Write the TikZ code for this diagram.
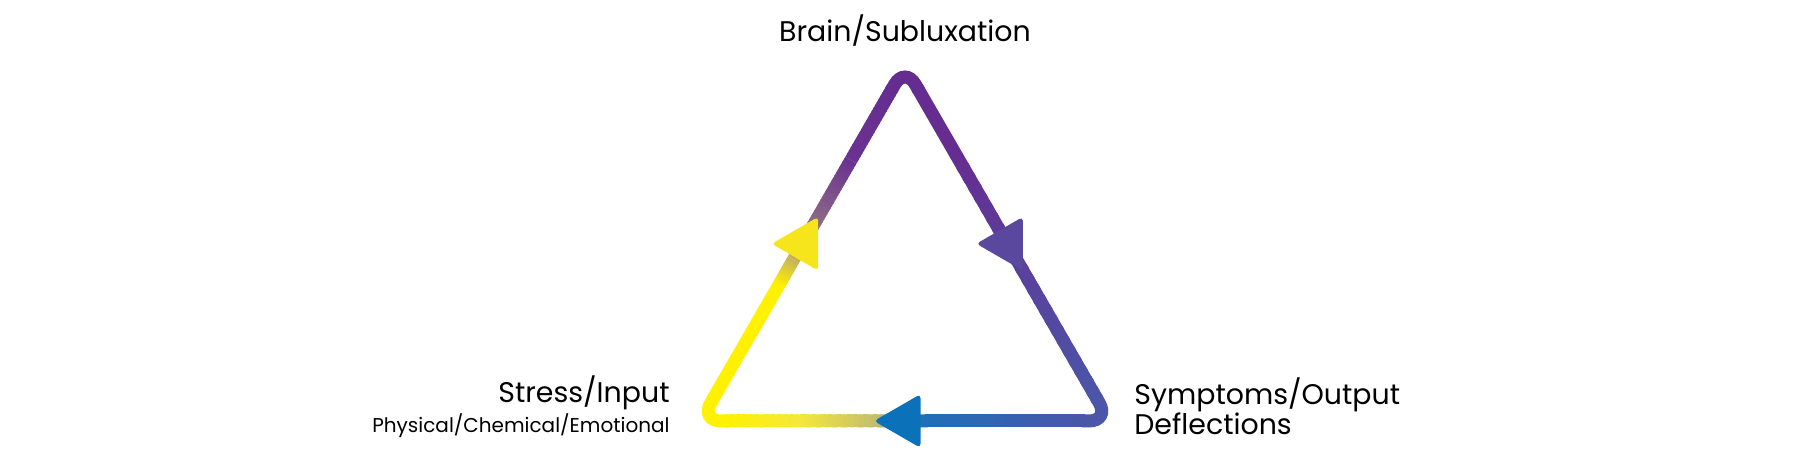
\documentclass[tikz,border=0pt]{standalone}
\usepackage{fontspec}
\setmainfont{Poppins}
\usetikzlibrary{calc,shapes.geometric}
\definecolor{cPurple}{HTML}{662D91}
\definecolor{cPurpleB}{HTML}{6A3291}
\definecolor{cMauve}{HTML}{8E6C84}
\definecolor{cTan}{HTML}{C8B45A}
\definecolor{cYellow}{HTML}{FFF100}
\definecolor{cYellowB}{HTML}{F5E83A}
\definecolor{cGrayYel}{HTML}{C2BC70}
\definecolor{cBlue}{HTML}{1E70B9}
\definecolor{cViolet}{HTML}{4B56A8}
\definecolor{cArrY}{HTML}{F7E51B}
\definecolor{cArrV}{HTML}{5A489F}
\definecolor{cArrB}{HTML}{0B72B9}
\newcommand{\gseg}[6]{%
  \foreach \k in {1,...,24}{%
    \pgfmathsetmacro{\ta}{#3+(#4-#3)*(\k-1)/24}%
    \pgfmathsetmacro{\tb}{#3+(#4-#3)*min(\k+0.4,24)/24}%
    \pgfmathsetmacro{\pc}{100-100*(\k-0.5)/24}%
    \draw[side, color=#5!\pc!#6] ($(#1)!\ta!(#2)$) -- ($(#1)!\tb!(#2)$);
  }}
\begin{document}
\begin{tikzpicture}[x=0.5pt,y=-0.5pt,
  side/.style={line width=6.5pt, line cap=butt},
  corner/.style={line width=6.5pt, rounded corners=10.4pt, line cap=butt},
  arrowhead/.style={regular polygon, regular polygon sides=3, minimum size=31pt, inner sep=0pt, rounded corners=2pt},
  lbl/.style={inner sep=0pt, text=black, font=\fontsize{14.2}{17}\selectfont},
  sublbl/.style={inner sep=0pt, text=black, font=\fontsize{10}{12}\selectfont}]
\useasboundingbox (0,0) rectangle (1800,453);
\coordinate (A) at (905,66.5);
\coordinate (BL) at (700.3,421);
\coordinate (BR) at (1109.7,421);
% left side (BL -> A)
\draw[side, color=cYellow] ($(BL)!0.06!(A)$) -- ($(BL)!0.386!(A)$);
\gseg{BL}{A}{0.384}{0.454}{cYellow}{cTan}
\gseg{BL}{A}{0.454}{0.553}{cTan}{cMauve}
\gseg{BL}{A}{0.553}{0.736}{cMauve}{cPurpleB}
\gseg{BL}{A}{0.736}{0.94}{cPurpleB}{cPurple}
% right side (A -> BR)
\draw[side, color=cPurple] ($(A)!0.06!(BR)$) -- ($(A)!0.252!(BR)$);
\gseg{A}{BR}{0.25}{0.94}{cPurple}{cViolet}
% bottom (BR -> BL)
\gseg{BR}{BL}{0.06}{0.461}{cViolet}{cBlue}
\gseg{BR}{BL}{0.461}{0.568}{cBlue}{cGrayYel}
\gseg{BR}{BL}{0.568}{0.756}{cGrayYel}{cYellowB}
\gseg{BR}{BL}{0.756}{0.94}{cYellowB}{cYellow}
% corners
\draw[corner, color=cYellow] ($(BL)!14pt!(BR)$) -- (BL) -- ($(BL)!14pt!(A)$);
\draw[corner, color=cPurple] ($(A)!14pt!(BL)$) -- (A) -- ($(A)!14pt!(BR)$);
\draw[corner, color=cViolet] ($(BR)!14pt!(A)$) -- (BR) -- ($(BR)!14pt!(BL)$);
% arrowheads
\node[arrowhead, fill=cArrY, regular polygon rotate=-30] (arrL) at ($(BL)!0.5!(A)$) {};
\node[arrowhead, fill=cArrV, regular polygon rotate=-150] (arrR) at ($(A)!0.5!(BR)$) {};
\node[arrowhead, fill=cArrB, regular polygon rotate=90] (arrB) at ($(BR)!0.5!(BL)$) {};
% labels
\node[lbl, anchor=base] (brain) at (905,42) {Brain/Subluxation};
\node[lbl, anchor=base east] (stress) at (670,403) {Stress/Input};
\node[sublbl, anchor=base east] (stresssub) at (670,433) {Physical/Chemical/Emotional};
\node[lbl, anchor=base west] (symptoms) at (1134,405) {Symptoms/Output};
\node[lbl, anchor=base west] (deflect) at (1134,435) {Deflections};
\end{tikzpicture}
\end{document}
